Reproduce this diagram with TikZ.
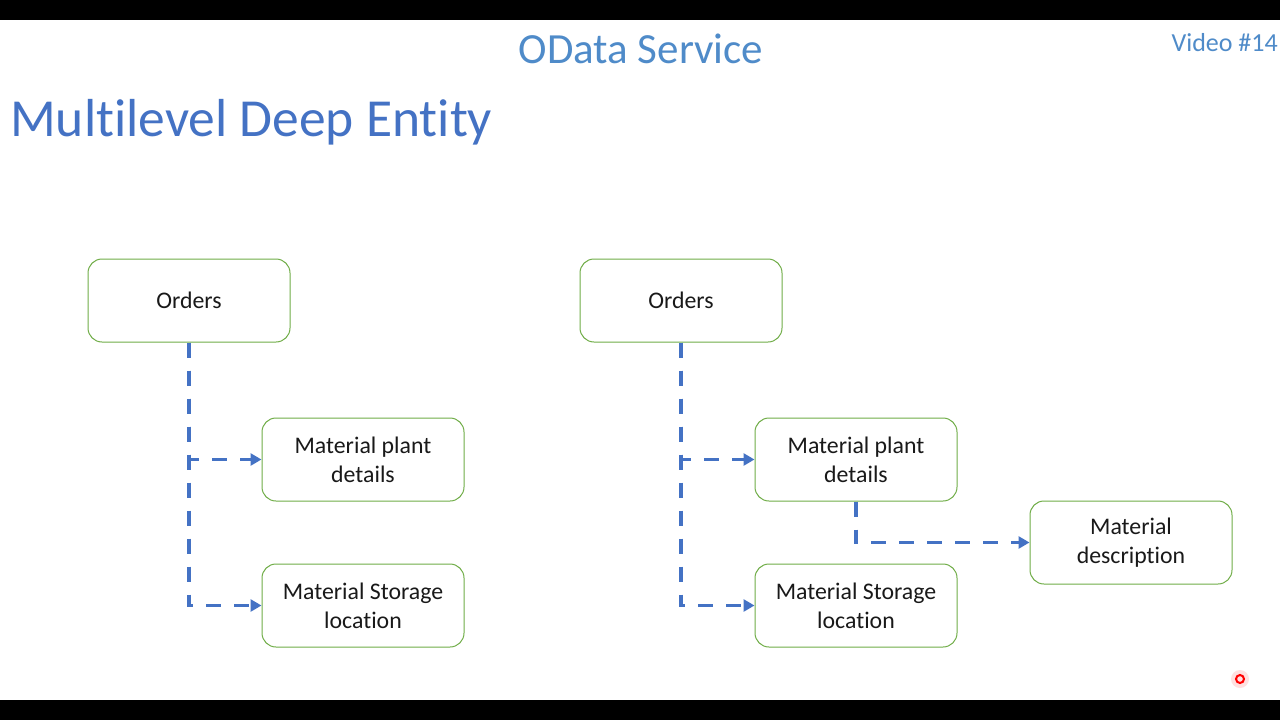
\documentclass[tikz,border=0pt]{standalone}
\usepackage{fontspec}
\setmainfont[Ligatures={NoCommon}]{Carlito}
\usetikzlibrary{arrows.meta}
\definecolor{boxgreen}{HTML}{70AD47}
\definecolor{linkblue}{HTML}{4472C4}
\definecolor{headblue}{HTML}{4472C4}
\definecolor{titleblue}{HTML}{4F8BC9}
\tikzset{
  entity/.style={draw=boxgreen, line width=1pt, rounded corners=14pt, minimum width=202pt, minimum height=83pt, align=center, inner sep=0pt, font=\fontsize{23.8}{29}\selectfont, text=black!90},
  link/.style={draw=linkblue, line width=3.6pt, dash pattern=on 15pt off 13pt, -{Triangle[length=11pt,width=12pt]}}
}
\begin{document}
\begin{tikzpicture}[x=1pt,y=-1pt]
\useasboundingbox (0,0) rectangle (1280,720);
\fill[white] (0,0) rectangle (1280,720);
\fill[black] (0,0) rectangle (1280,20);
\fill[black] (0,700) rectangle (1280,720);
% titles
\node[anchor=base, text=titleblue, font=\fontsize{43}{50}\selectfont, inner sep=0pt] (title) at (641,63) {OData Service};
\node[anchor=base east, text=titleblue, font=\fontsize{26}{30}\selectfont, inner sep=0pt] (video) at (1278,51) {Video \#14};
\node[anchor=base west, text=headblue, font=\fontsize{53.5}{60}\selectfont, inner sep=0pt] (head) at (10,136) {Multilevel Deep Entity};
% left diagram
\node[entity] (o1) at (189,300.5) {Orders};
\node[entity] (p1) at (363,459.5) {Material plant\\details};
\node[entity] (s1) at (363,605.5) {Material Storage\\location};
% right diagram
\node[entity] (o2) at (681,300.5) {Orders};
\node[entity] (p2) at (856,459.5) {Material plant\\details};
\node[entity] (s2) at (856,605.5) {Material Storage\\location};
\node[entity] (d2) at (1131,542.5) {Material\\description};
% connectors
\draw[link] (o1.south) |- (p1.west);
\draw[link] (o1.south) |- (s1.west);
\draw[link] (o2.south) |- (p2.west);
\draw[link] (o2.south) |- (s2.west);
\draw[link] (p2.south) |- (d2.west);
% recording indicator
\fill[red!12] (1240,679) circle (9pt);
\draw[red, line width=2pt] (1240,679) circle (4pt);
\end{tikzpicture}
\end{document}
